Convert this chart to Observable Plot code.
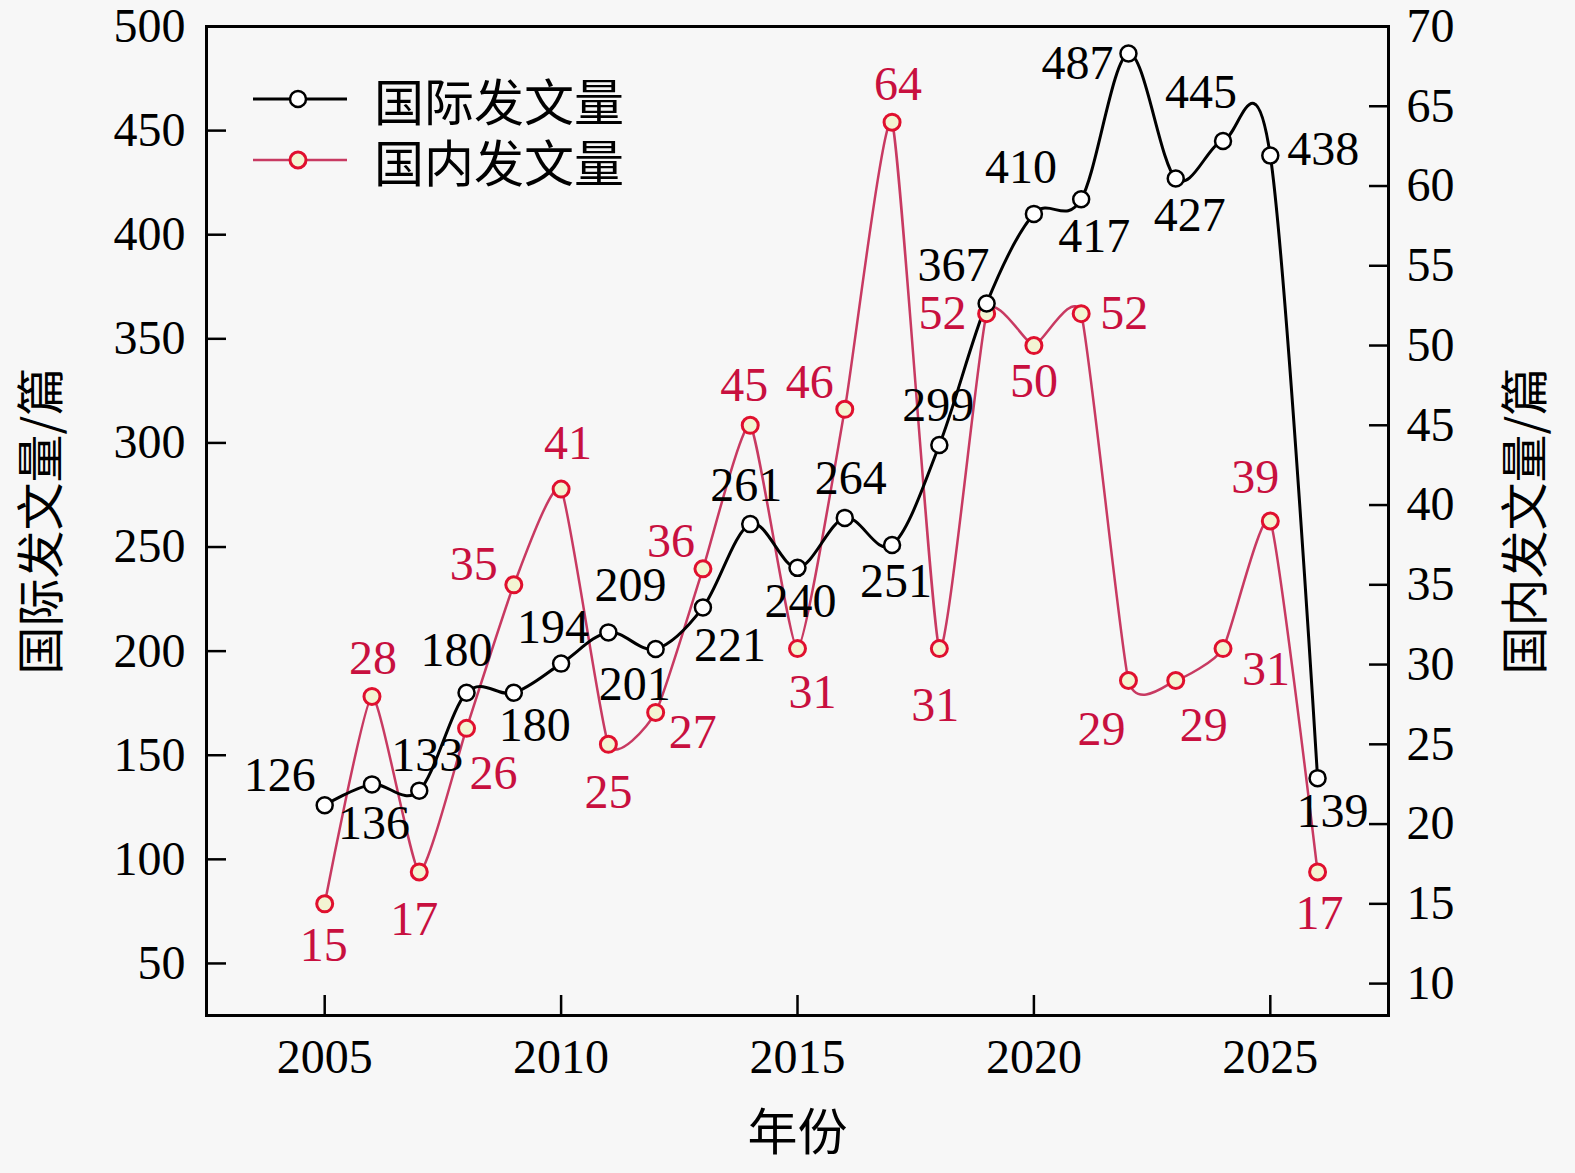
<!DOCTYPE html>
<html>
<head>
<meta charset="utf-8">
<script src="https://cdn.jsdelivr.net/npm/d3@7"></script>
<script src="https://cdn.jsdelivr.net/npm/@observablehq/plot@0.6"></script>
<style>
  body { margin: 0; background: #f7f7f7; }
  #wrap { position: relative; width: 1575px; height: 1173px; font-family: "Liberation Serif", "Noto Sans CJK SC", serif; }
  #legend { position: absolute; left: 250px; top: 68px; }
  .row { display: flex; align-items: center; height: 61px; line-height: 1; font-size: 50px; font-family: "Noto Sans CJK SC", sans-serif; color: #000; }
  .row svg { margin-right: 24px; }
</style>
</head>
<body>
<div id="wrap">
  <div id="plot"></div>
  <div id="legend">
    <div class="row"><svg width="100" height="24"><line x1="3" y1="12" x2="97" y2="12" stroke="#000" stroke-width="3"/><circle cx="48" cy="12" r="8" fill="#fff" stroke="#000" stroke-width="2.5"/></svg><span>国际发文量</span></div>
    <div class="row"><svg width="100" height="24"><line x1="3" y1="12" x2="97" y2="12" stroke="#c83a62" stroke-width="2.5"/><circle cx="48" cy="12" r="8" fill="#f3f4d2" stroke="#e0102e" stroke-width="3"/></svg><span>国内发文量</span></div>
  </div>
</div>
<script>
// ---- data ----
const years = [2005,2006,2007,2008,2009,2010,2011,2012,2013,2014,2015,2016,2017,2018,2019,2020,2021,2022,2023,2024,2025,2026];
const intlCounts = [126,136,133,180,180,194,209,201,221,261,240,264,251,299,367,410,417,487,427,445,438,139];
const domesticCounts = [15,28,17,26,35,41,25,27,36,45,31,46,64,31,52,50,52,29,29,31,39,17];
const xTickValues = [2005,2010,2015,2020,2025];
const leftTickValues = [50,100,150,200,250,300,350,400,450,500];
const rightTickValues = [10,15,20,25,30,35,40,45,50,55,60,65,70];

// ---- label placement (pixel nudges, layout only) ----
const intlLabelNudge = [[-45,-30],[2,39],[8,-35],[-10,-42],[21,33],[-8,-36],[22,-47],[-21,36],[27,38],[-4,-38],[3,34],[6,-39],[4,37],[-1,-39],[-33,-38],[-13,-46],[13,37],[-51,10],[14,37],[-22,-48],[53,-6],[15,33]];
const domLabelNudge = [[-1,42],[1,-38],[-5,48],[27,45],[-40,-20],[7,-45],[0,48],[37,20],[-32,-27],[-6,-40],[15,44],[-35,-27],[6,-38],[-4,57],[-44,0],[0,36],[43,0],[-27,49],[28,45],[43,21],[-15,-43],[2,42]];

// ---- dual-axis mapping ----
const L0 = 25, L1 = 500, R0 = 8, R1 = 70;
const toLeft = r => L0 + (r - R0) * (L1 - L0) / (R1 - R0);
const fromLeft = l => R0 + (l - L0) * (R1 - R0) / (L1 - L0);

const intl = years.map((year, i) => ({year, v: intlCounts[i], y: intlCounts[i]}));
const dom = years.map((year, i) => ({year, v: domesticCounts[i], y: toLeft(domesticCounts[i])}));

const BLACK = "#000";
const RED_LINE = "#c83a62";
const RED_DOT = "#e0102e";
const RED_TEXT = "#c8103f";
const FS = 48;

const labelMarks = [];
intl.forEach((d, i) => {
  labelMarks.push(Plot.text([d], {x: "year", y: "y", text: d => String(d.v), dx: intlLabelNudge[i][0], dy: intlLabelNudge[i][1], fill: BLACK, fontSize: FS}));
});
dom.forEach((d, i) => {
  labelMarks.push(Plot.text([d], {x: "year", y: "y", text: d => String(d.v), dx: domLabelNudge[i][0], dy: domLabelNudge[i][1], fill: RED_TEXT, fontSize: FS}));
});

const chart = Plot.plot({
  width: 1575,
  height: 1173,
  marginLeft: 206,
  marginRight: 187,
  marginTop: 26,
  marginBottom: 158,
  style: {background: "#f7f7f7", fontFamily: "'Liberation Serif', 'Noto Sans CJK SC', serif", color: "#000"},
  x: {domain: [2002.5, 2027.5]},
  y: {domain: [L0, L1]},
  marks: [
    // ticks (inward)
    Plot.axisX({ticks: xTickValues, tickSize: -20, strokeWidth: 2.5, tickFormat: () => "", label: null}),
    Plot.axisY({ticks: leftTickValues, anchor: "left", tickSize: -20, strokeWidth: 2.5, tickFormat: () => "", label: null}),
    Plot.axisY({ticks: rightTickValues.map(toLeft), anchor: "right", tickSize: -20, strokeWidth: 2.5, tickFormat: () => "", label: null}),
    // tick labels
    Plot.axisX({ticks: xTickValues, tickSize: 0, tickPadding: 23, fontSize: FS, tickFormat: d => String(d), label: null}),
    Plot.axisY({ticks: leftTickValues, anchor: "left", tickSize: 0, tickPadding: 21, fontSize: FS, tickFormat: d => String(d), label: null}),
    Plot.axisY({ticks: rightTickValues.map(toLeft), anchor: "right", tickSize: 0, tickPadding: 18, fontSize: FS, tickFormat: v => String(Math.round(fromLeft(v))), label: null}),
    // axis titles
    Plot.text(["年份"], {frameAnchor: "bottom", lineAnchor: "middle", dy: 118, fontSize: 50, fontFamily: "Noto Sans CJK SC", fill: BLACK}),
    Plot.text(["国际发文量/篇"], {frameAnchor: "left", textAnchor: "middle", dx: -164, rotate: -90, fontSize: 48, fontFamily: "Noto Sans CJK SC", fill: BLACK}),
    Plot.text(["国内发文量/篇"], {frameAnchor: "right", textAnchor: "middle", dx: 138, rotate: -90, fontSize: 48, fontFamily: "Noto Sans CJK SC", fill: BLACK}),
    // series
    Plot.line(dom, {x: "year", y: "y", stroke: RED_LINE, strokeWidth: 2.5, curve: "cardinal", tension: 0.5}),
    Plot.line(intl, {x: "year", y: "y", stroke: BLACK, strokeWidth: 3, curve: "cardinal"}),
    Plot.dot(dom, {x: "year", y: "y", r: 8, stroke: RED_DOT, strokeWidth: 3, fill: "#f3f4d2"}),
    Plot.dot(intl, {x: "year", y: "y", r: 8, stroke: BLACK, strokeWidth: 2.5, fill: "#fff"}),
    ...labelMarks,
    Plot.frame({stroke: BLACK, strokeWidth: 3})
  ]
});
document.getElementById("plot").appendChild(chart);
</script>
</body>
</html>
